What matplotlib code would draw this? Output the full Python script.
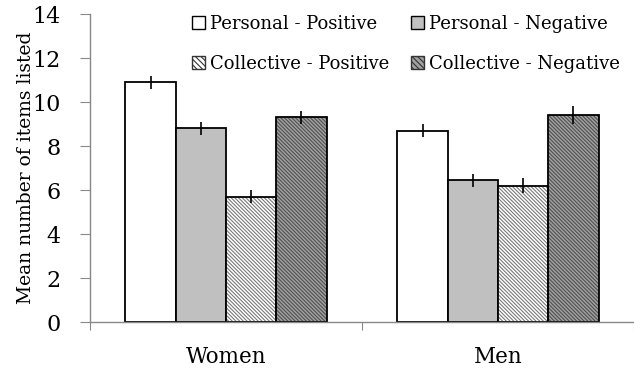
import numpy as np
import matplotlib
matplotlib.use("Agg")
import matplotlib.pyplot as plt
from matplotlib.patches import Patch

groups = ["Women", "Men"]
series = ["Personal - Positive", "Personal - Negative",
          "Collective - Positive", "Collective - Negative"]
means = {
    "Personal - Positive":   [10.9, 8.7],
    "Personal - Negative":   [8.8, 6.45],
    "Collective - Positive": [5.7, 6.2],
    "Collective - Negative": [9.3, 9.4],
}
errors = {
    "Personal - Positive":   [0.3, 0.3],
    "Personal - Negative":   [0.3, 0.3],
    "Collective - Positive": [0.3, 0.35],
    "Collective - Negative": [0.3, 0.4],
}
yticks = [0, 2, 4, 6, 8, 10, 12, 14]

styles = {
    "Personal - Positive":   dict(face="white", hatch=None, hcol=None),
    "Personal - Negative":   dict(face="#c0c0c0", hatch=None, hcol=None),
    "Collective - Positive": dict(face="white", hatch="\\" * 9, hcol="#7a7a7a"),
    "Collective - Negative": dict(face="#a0a0a0", hatch="\\" * 9, hcol="#505050"),
}

plt.rcParams["font.family"] = ["DejaVu Serif"]
plt.rcParams["hatch.linewidth"] = 0.8

fig = plt.figure(figsize=(6.34, 3.71), dpi=100)
ax = fig.add_axes([0.142, 0.132, 0.858, 0.83])

x = np.arange(len(groups))
w = 0.185
offsets = (np.arange(len(series)) - 1.5) * w
handles = []
for off, name in zip(offsets, series):
    st = styles[name]
    if st["hatch"]:
        # fill with a gray hatch, then a black outline on top
        ax.bar(x + off, means[name], w, facecolor=st["face"], hatch=st["hatch"],
               edgecolor=st["hcol"], linewidth=0, zorder=2)
        ax.bar(x + off, means[name], w, fill=False, edgecolor="black",
               linewidth=1.3, zorder=2.5)
        handles.append(Patch(facecolor=st["face"], hatch="\\" * 6,
                             edgecolor="#333333", linewidth=1.0, label=name))
    else:
        ax.bar(x + off, means[name], w, facecolor=st["face"],
               edgecolor="black", linewidth=1.3, zorder=2)
        handles.append(Patch(facecolor=st["face"], edgecolor="black",
                             linewidth=1.0, label=name))
    ax.errorbar(x + off, means[name], yerr=errors[name], fmt="none",
                ecolor="black", elinewidth=1.2, capsize=0, zorder=3)

ax.set_xlim(-0.5, 1.5)
ax.set_ylim(0, 14)
ax.set_yticks(yticks)
ax.set_yticklabels([str(v) for v in yticks], fontsize=16)
ax.set_xticks([-0.5, 0.5, 1.5])
ax.set_xticklabels([])
ax.set_xticks(x, minor=True)
ax.set_xticklabels(groups, minor=True, fontsize=15.5)
ax.tick_params(axis="x", which="minor", length=0, pad=17)
ax.tick_params(axis="x", which="major", direction="out", length=6, color="#888888")
ax.tick_params(axis="y", direction="out", length=7, color="#888888", pad=14)
for s in ["top", "right"]:
    ax.spines[s].set_visible(False)
for s in ["left", "bottom"]:
    ax.spines[s].set_color("#888888")
    ax.spines[s].set_linewidth(1.0)
ax.set_ylabel("Mean number of items listed", fontsize=13.5, labelpad=-2)

# row-wise order: Personal pair on top, Collective pair below
order = [0, 2, 1, 3]
ax.legend([handles[i] for i in order], [series[i] for i in order],
          loc="upper left", bbox_to_anchor=(0.158, 1.05), ncol=2, frameon=False,
          fontsize=13, handlelength=0.7, handleheight=0.7, handletextpad=0.3,
          columnspacing=1.2, labelspacing=1.2)

fig.savefig("out.png", dpi=100)
